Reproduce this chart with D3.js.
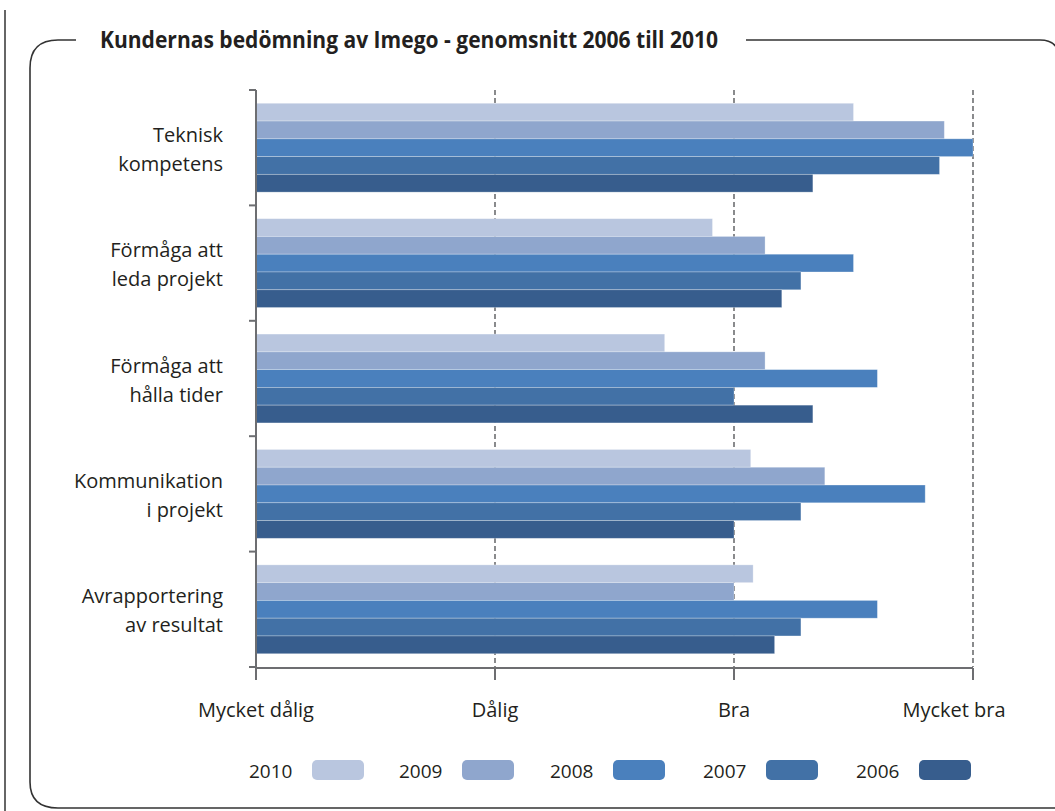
<!DOCTYPE html>
<html>
<head>
<meta charset="utf-8">
<script src="https://cdn.jsdelivr.net/npm/d3@7"></script>
<style>
    body { margin: 0; background: #fff; }
    svg text { font-family: "Open Sans", "Noto Sans", sans-serif; fill: #231f20; }
</style>
</head>
<body>
<div id="chart"></div>
<script>
    // Categories (two-line labels) and rating scale
    const categories = [
        ['Teknisk', 'kompetens'],
        ['Förmåga att', 'leda projekt'],
        ['Förmåga att', 'hålla tider'],
        ['Kommunikation', 'i projekt'],
        ['Avrapportering', 'av resultat']
    ];
    const years = ['2010', '2009', '2008', '2007', '2006'];
    const yearColors = ['#b9c6df', '#8fa6cd', '#4a80bd', '#4271a6', '#375d8d'];
    const tickLabels = ['Mycket dålig', 'Dålig', 'Bra', 'Mycket bra'];
    const tickValues = [1, 2, 3, 4];

    // Average score per year, one array per category (order: 2010..2006)
    const teknisk = [3.50, 3.88, 4.00, 3.86, 3.33];
    const ledaProjekt = [2.91, 3.13, 3.50, 3.28, 3.20];
    const hallaTider = [2.71, 3.13, 3.60, 3.00, 3.33];
    const kommunikation = [3.07, 3.38, 3.80, 3.28, 3.00];
    const avrapportering = [3.08, 3.00, 3.60, 3.28, 3.17];
    const values = [teknisk, ledaProjekt, hallaTider, kommunikation, avrapportering];

    const width = 1055, height = 811;
    const svg = d3.select('#chart').append('svg')
        .attr('width', width)
        .attr('height', height);

    // Page edge line and rounded frame
    svg.append('line')
        .attr('x1', 5).attr('x2', 5).attr('y1', 10).attr('y2', height)
        .attr('stroke', '#333').attr('stroke-width', 1.5);
    svg.append('path')
        .attr('d', 'M76,40 L58,40 Q30,40 30,68 L30,782 Q30,808 58,808 L1060,808')
        .attr('fill', 'none').attr('stroke', '#333').attr('stroke-width', 1.6);
    svg.append('path')
        .attr('d', 'M746,40 L1040,40 Q1058,40 1060,58')
        .attr('fill', 'none').attr('stroke', '#333').attr('stroke-width', 1.6);

    svg.append('text')
        .attr('x', 100).attr('y', 48)
        .attr('font-size', 23).attr('font-weight', 'bold')
        .attr('textLength', 618).attr('lengthAdjust', 'spacingAndGlyphs')
        .text('Kundernas bedömning av Imego - genomsnitt 2006 till 2010');

    // Scales
    const x = d3.scaleLinear().domain([1, 4]).range([256, 973]);
    const y = d3.scaleBand().domain(d3.range(categories.length)).range([90, 667]).paddingInner(0.23).paddingOuter(0.115);
    const yInner = d3.scaleBand().domain(years).range([0, y.bandwidth()]);

    // Dashed grid lines
    svg.selectAll('.grid')
        .data(tickValues.slice(1))
        .enter().append('line')
        .attr('x1', d => x(d)).attr('x2', d => x(d))
        .attr('y1', 90).attr('y2', 667)
        .attr('stroke', '#6d6e71').attr('stroke-width', 1.6)
        .attr('stroke-dasharray', '5,3');

    // Bars
    const groups = svg.selectAll('.cat')
        .data(values)
        .enter().append('g')
        .attr('transform', (d, i) => `translate(0, ${y(i)})`);
    groups.selectAll('rect')
        .data(d => d.map((v, j) => ({ year: years[j], v: v, c: yearColors[j] })))
        .enter().append('rect')
        .attr('x', x(1))
        .attr('y', d => yInner(d.year))
        .attr('width', d => x(d.v) - x(1))
        .attr('height', yInner.bandwidth())
        .attr('fill', d => d.c)
        .attr('stroke', 'rgba(255,255,255,0.35)')
        .attr('stroke-width', 0.8);

    // Category labels, right aligned
    const step = (667 - 90) / categories.length;
    svg.selectAll('.catLabel')
        .data(categories)
        .enter().append('text')
        .attr('text-anchor', 'end')
        .attr('font-size', 20)
        .attr('x', 223)
        .attr('y', (d, i) => 90 + step * (i + 0.5) - 6)
        .selectAll('tspan')
        .data(d => d)
        .enter().append('tspan')
        .attr('x', 223)
        .attr('dy', (d, k) => k === 0 ? 0 : 29)
        .text(d => d);

    // Axes lines and ticks
    const axisColor = '#6d6e71';
    svg.append('line')
        .attr('x1', 256).attr('x2', 256).attr('y1', 90).attr('y2', 668)
        .attr('stroke', axisColor).attr('stroke-width', 2);
    svg.append('line')
        .attr('x1', 256).attr('x2', 973).attr('y1', 668).attr('y2', 668)
        .attr('stroke', axisColor).attr('stroke-width', 2);
    svg.selectAll('.ytick')
        .data(d3.range(categories.length + 1))
        .enter().append('line')
        .attr('x1', 249).attr('x2', 256)
        .attr('y1', i => 90 + step * i).attr('y2', i => 90 + step * i)
        .attr('stroke', axisColor).attr('stroke-width', 2);
    svg.selectAll('.xtick')
        .data(tickValues)
        .enter().append('line')
        .attr('x1', d => x(d)).attr('x2', d => x(d))
        .attr('y1', 668).attr('y2', 680)
        .attr('stroke', axisColor).attr('stroke-width', 2);

    svg.selectAll('.xlabel')
        .data(tickLabels)
        .enter().append('text')
        .attr('text-anchor', 'middle')
        .attr('font-size', 20)
        .attr('x', (d, i) => x(tickValues[i]) - (i === 3 ? 19 : 0))
        .attr('y', 717)
        .text(d => d);

    // Legend
    const legendX = [249, 399, 550, 703, 856];
    const legend = svg.selectAll('.legend')
        .data(years)
        .enter().append('g')
        .attr('transform', (d, i) => `translate(${legendX[i]}, 770)`);
    legend.append('text')
        .attr('y', 8).attr('font-size', 19)
        .text(d => d);
    legend.append('rect')
        .attr('x', 63).attr('y', -10)
        .attr('width', 52).attr('height', 20)
        .attr('rx', 5)
        .attr('fill', (d, i) => yearColors[i]);
</script>
</body>
</html>
